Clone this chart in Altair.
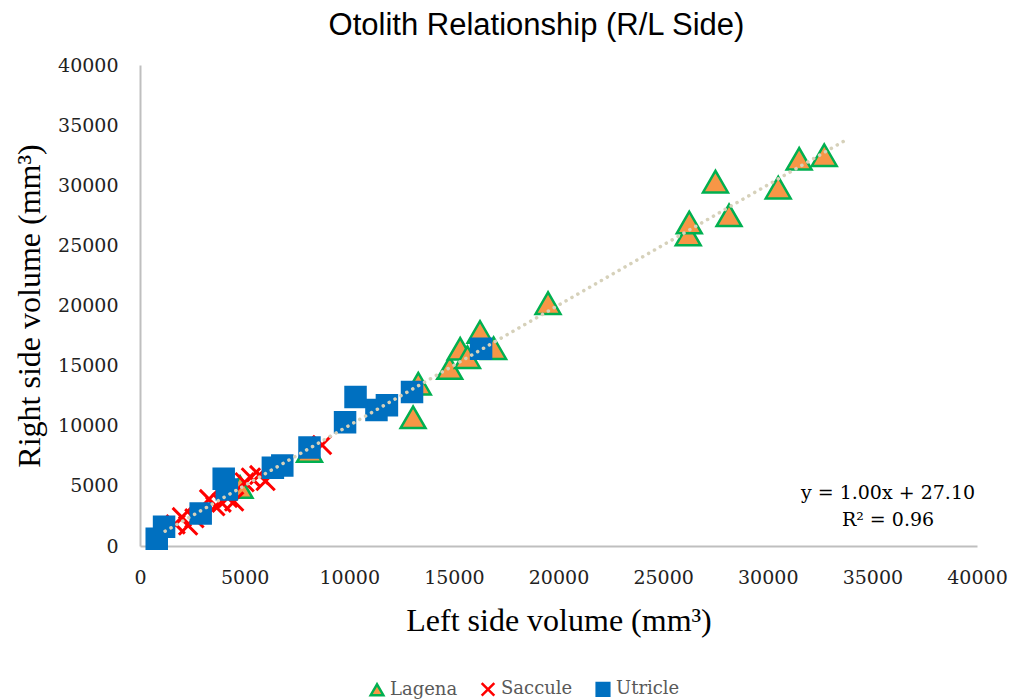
import altair as alt
import pandas as pd

series_names = ["Lagena", "Saccule", "Utricle"]

lagena_x = [4780, 8100, 13050, 13300, 14800, 15300, 15650, 16250, 16900, 19500,
            26200, 26250, 27500, 28150, 30500, 31500, 32700]
lagena_y = [4900, 7900, 10700, 13500, 14800, 16400, 15700, 17800, 16450, 20200,
            25900, 26900, 30300, 27500, 29800, 32200, 32500]

saccule_x = [1700, 2000, 2300, 2600, 3300, 3600, 3900, 4200, 4500, 5000, 5300, 5700, 6000, 8700]
saccule_y = [1800, 2400, 1700, 2300, 3900, 3300, 3600, 4000, 3700, 5300, 5700, 5900, 5400, 8400]

utricle_x = [800, 1150, 2900, 4000, 4150, 6350, 6800, 8100, 9800, 10300, 11300, 11800, 13000, 16300]
utricle_y = [600, 1600, 2700, 5600, 4700, 6500, 6700, 8200, 10300, 12400, 11300, 11700, 12800, 16400]

trend_x = [1200, 33700]
slope = 1.00
intercept = 27.10
trend_y = [slope * v + intercept for v in trend_x]

eq_line1 = "y = 1.00x + 27.10"
eq_line2 = "R\u00b2 = 0.96"

rows = []
for name, xs, ys in [("Lagena", lagena_x, lagena_y),
                     ("Saccule", saccule_x, saccule_y),
                     ("Utricle", utricle_x, utricle_y)]:
    for a, b in zip(xs, ys):
        rows.append({"series": name, "left": a, "right": b})
df = pd.DataFrame(rows)
trend_df = pd.DataFrame({"left": trend_x, "right": trend_y})

X_PATH = "M-1,-1L1,1M1,-1L-1,1"

xscale = alt.Scale(domain=[0, 40000], nice=False, zero=False)
yscale = alt.Scale(domain=[0, 40000], nice=False, zero=False)

label_font = "DejaVu Serif"
title_font = "Liberation Serif"

xaxis = alt.Axis(values=list(range(0, 40001, 5000)), format="d", grid=False, ticks=False,
                 domainColor="#BFBFBF", domainWidth=2, labelFlush=False, labelOverlap=False,
                 labelFont=label_font, labelFontSize=19, labelColor="#222222",
                 labelPadding=22, titleFont=title_font, titleFontSize=32,
                 titleFontWeight="normal", titleColor="#000000", titlePadding=18)
yaxis = alt.Axis(values=list(range(0, 40001, 5000)), format="d", grid=False, ticks=False,
                 domainColor="#BFBFBF", domainWidth=2, labelFlush=False, labelOverlap=False,
                 labelFont=label_font, labelFontSize=19, labelColor="#222222",
                 labelPadding=22, titleFont=title_font, titleFontSize=32,
                 titleFontWeight="normal", titleColor="#000000", titlePadding=11)

legend = alt.Legend(title=None, orient="none", direction="horizontal",
                    legendX=228, legendY=615,
                    labelFont=label_font, labelFontSize=18,
                    labelColor="#595959", symbolSize=160, symbolStrokeWidth=2.5,
                    columnPadding=18, labelOffset=4)

shape_enc = alt.Shape("series:N", scale=alt.Scale(domain=series_names,
                      range=["triangle-up", X_PATH, "square"]), legend=legend)
fill_enc = alt.Fill("series:N", scale=alt.Scale(domain=series_names,
                    range=["#F79646", "transparent", "#0070C0"]), legend=legend)
stroke_enc = alt.Stroke("series:N", scale=alt.Scale(domain=series_names,
                        range=["#00B050", "#FF0000", "#0070C0"]), legend=legend)

marker_sizes = {"Lagena": 620, "Saccule": 340, "Utricle": 400}
marker_strokes = {"Lagena": 2.5, "Saccule": 3, "Utricle": 2.5}


def series_layer(name):
    return alt.Chart(df).transform_filter(
        alt.datum.series == name
    ).mark_point(opacity=1, strokeWidth=marker_strokes[name], filled=False,
                 size=marker_sizes[name]).encode(
        x=alt.X("left:Q", scale=xscale, axis=xaxis, title="Left side volume (mm\u00b3)"),
        y=alt.Y("right:Q", scale=yscale, axis=yaxis, title="Right side volume (mm\u00b3)"),
        shape=shape_enc, fill=fill_enc, stroke=stroke_enc,
    )


trend = alt.Chart(trend_df).mark_line(color="#D6D1BA", strokeWidth=3.5,
                                      strokeDash=[0.1, 6.7], strokeCap="round").encode(
    x=alt.X("left:Q", scale=xscale),
    y=alt.Y("right:Q", scale=yscale),
)

eq1 = alt.Chart(pd.DataFrame({"t": [eq_line1]})).mark_text(
    font=label_font, fontSize=19, color="#000000", align="center", baseline="middle"
).encode(text="t:N", x=alt.value(748), y=alt.value(428))
eq2 = alt.Chart(pd.DataFrame({"t": [eq_line2]})).mark_text(
    font=label_font, fontSize=19, color="#000000", align="center", baseline="middle"
).encode(text="t:N", x=alt.value(748), y=alt.value(455))

chart = alt.layer(series_layer("Lagena"), series_layer("Saccule"), series_layer("Utricle"),
                  trend, eq1, eq2).properties(
    width=837, height=481,
    title=alt.TitleParams("Otolith Relationship (R/L Side)", font="Liberation Sans",
                          fontSize=31, fontWeight="normal", color="#000000",
                          anchor="middle", frame="group", dx=-22, offset=14),
    autosize=alt.AutoSizeParams(type="none"),
    padding={"left": 140, "top": 65, "right": 44, "bottom": 154},
).configure_view(stroke=None)

chart.save("out.html", embed_options={"renderer": "svg", "actions": False})
